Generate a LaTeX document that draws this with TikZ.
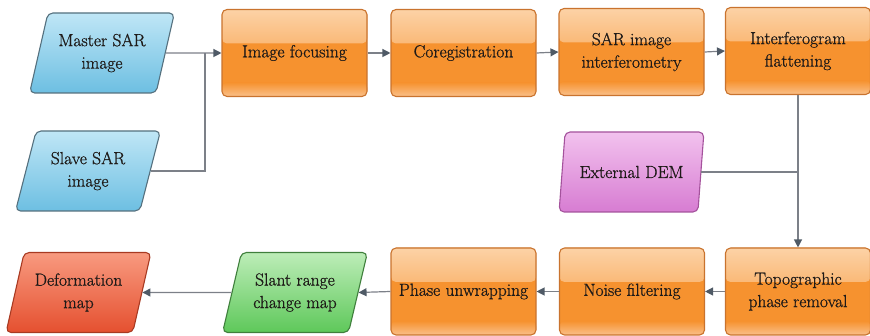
\documentclass[tikz,border=0pt]{standalone}
\usepackage{fontspec}
\newfontfamily\diafont{Latin Modern Roman}[FakeBold=0.9]
\usetikzlibrary{shapes.geometric,arrows.meta}
\definecolor{ortop}{HTML}{FCD2A6}
\definecolor{ormid}{HTML}{F6922F}
\definecolor{orbot}{HTML}{FAC08A}
\definecolor{ordraw}{HTML}{C9732E}
\definecolor{bltop}{HTML}{BFE6F6}
\definecolor{blbot}{HTML}{6DBFE2}
\definecolor{bldraw}{HTML}{55707E}
\definecolor{pktop}{HTML}{F2C2EE}
\definecolor{pkbot}{HTML}{D77CD2}
\definecolor{pkdraw}{HTML}{A4529C}
\definecolor{grtop}{HTML}{BDEDB8}
\definecolor{grbot}{HTML}{5EC85A}
\definecolor{grdraw}{HTML}{3F7F3C}
\definecolor{rdtop}{HTML}{F89A80}
\definecolor{rdbot}{HTML}{E5502F}
\definecolor{rddraw}{HTML}{A83A22}
\definecolor{linegray}{HTML}{7C8088}
\definecolor{tipgray}{HTML}{4F5A66}
\definecolor{txt}{HTML}{1E1A18}
\tikzset{
  base/.style={font=\diafont\fontsize{17.5}{22.5}\selectfont, text=txt, align=center, line width=1.1pt, inner sep=0pt},
  procbox/.style={base, rectangle, rounded corners=5pt, minimum width=145pt, minimum height=87pt,
     draw=ordraw, fill=ormid,
     path picture={
       \fill[top color=ortop, bottom color=ormid] (path picture bounding box.north west) rectangle ([yshift=-34pt]path picture bounding box.north east);
       \fill[top color=ormid, bottom color=orbot] ([yshift=14pt]path picture bounding box.south west) rectangle (path picture bounding box.south east);
     }},
  iobox/.style={base, trapezium, trapezium stretches=true, trapezium left angle=69, trapezium right angle=111,
     rounded corners=5pt, minimum width=145pt, minimum height=80pt},
  blue/.style={iobox, draw=bldraw, top color=bltop, bottom color=blbot},
  pink/.style={iobox, draw=pkdraw, top color=pktop, bottom color=pkbot},
  green/.style={iobox, draw=grdraw, top color=grtop, bottom color=grbot},
  red/.style={iobox, draw=rddraw, top color=rdtop, bottom color=rdbot},
  conn/.style={draw=linegray, line width=1.2pt},
  arr/.style={conn, -{Triangle[length=8pt,width=8pt,color=tipgray]}}
}
\begin{document}
\begin{tikzpicture}[x=1pt,y=-1pt]
\useasboundingbox (0,0) rectangle (870,336);
\node[blue] (master) at (102,53) {Master SAR\\image};
\node[blue] (slave) at (88,171) {Slave SAR\\image};
\node[procbox] (focus) at (294.5,53) {Image focusing};
\node[procbox] (coreg) at (463.5,53) {Coregistration};
\node[procbox] (interf) at (631.5,52) {SAR image\\interferometry};
\node[procbox] (flat) at (798,51) {Interferogram\\flattening};
\node[pink] (dem) at (631.5,172) {External DEM};
\node[procbox] (topo) at (798,291.5) {Topographic\\phase removal};
\node[procbox] (noise) at (632,291.5) {Noise filtering};
\node[procbox] (unwrap) at (463.5,291.5) {Phase unwrapping};
\node[green] (slant) at (295,292.5) {Slant range\\change map};
\node[red] (deform) at (78.5,292.5) {Deformation\\map};
\coordinate (j1) at (205,53);
\draw[arr] (master.east) -- (focus.west);
\draw[conn] (slave.east) -| (j1);
\draw[arr] (focus.east) -- (coreg.west);
\draw[arr] (coreg.east) -- (interf.west);
\draw[arr] (interf.east) -- (flat.west);
\draw[arr] (flat.south) -- (topo.north);
\draw[conn] (dem.east) -- (dem.east -| flat.south);
\draw[arr] (topo.west) -- (noise.east);
\draw[arr] (noise.west) -- (unwrap.east);
\draw[arr] (unwrap.west) -- (slant.east);
\draw[arr] (slant.west) -- (deform.east);
\end{tikzpicture}
\end{document}
